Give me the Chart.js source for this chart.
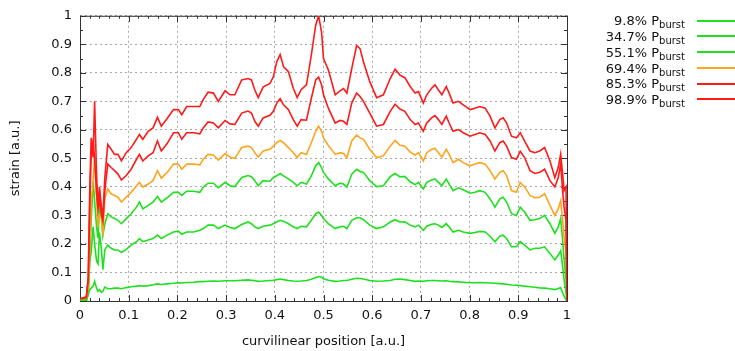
<!DOCTYPE html>
<html>
<head>
<meta charset="utf-8">
<script src="https://cdn.jsdelivr.net/npm/chart.js@4"></script>
<style>
  html, body { margin: 0; padding: 0; background: #fff; }
  #wrap { position: relative; width: 735px; height: 351px; }
  .key { position: absolute; right: 50px; height: 16px; line-height: 16px;
         font: 13px 'DejaVu Sans', sans-serif; color: #111; white-space: nowrap; }
  .key sub { font-size: 10px; vertical-align: -3px; line-height: 0; }
  .swatch { position: absolute; left: 697px; width: 38px; height: 2px; }
</style>
</head>
<body>
<div id="wrap"><canvas id="strainChart"></canvas></div>
<script>
// curvilinear position (shared by all curves)
const pos = [
  0, 0.013, 0.017, 0.02, 0.023, 0.027, 0.03, 0.034, 0.037, 0.04,
  0.044, 0.047, 0.051, 0.057, 0.064, 0.071, 0.078, 0.085, 0.095, 0.105,
  0.116, 0.122, 0.129, 0.14, 0.15, 0.159, 0.167, 0.179, 0.192, 0.202,
  0.209, 0.219, 0.233, 0.246, 0.253, 0.263, 0.274, 0.284, 0.298, 0.308,
  0.318, 0.332, 0.345, 0.352, 0.359, 0.366, 0.376, 0.39, 0.397, 0.404,
  0.411, 0.418, 0.428, 0.438, 0.446, 0.454, 0.465, 0.475, 0.484, 0.49,
  0.496, 0.5, 0.51, 0.524, 0.534, 0.541, 0.548, 0.558, 0.568, 0.575,
  0.582, 0.595, 0.609, 0.623, 0.637, 0.647, 0.657, 0.667, 0.678, 0.688,
  0.695, 0.705, 0.712, 0.722, 0.729, 0.736, 0.743, 0.752, 0.758, 0.766,
  0.777, 0.787, 0.801, 0.811, 0.821, 0.832, 0.842, 0.852, 0.862, 0.869,
  0.876, 0.886, 0.896, 0.904, 0.913, 0.924, 0.934, 0.944, 0.954, 0.965,
  0.975, 0.982, 0.987, 0.991, 0.994, 0.998, 1.0
];

// strain at 9.8% Pburst
const p098 = [
  0.0, 0.0, 0.023, 0.04, 0.045, 0.052, 0.069, 0.045, 0.034, 0.04,
  0.03, 0.034, 0.049, 0.043, 0.043, 0.045, 0.045, 0.043, 0.047, 0.05,
  0.052, 0.054, 0.052, 0.054, 0.057, 0.06, 0.058, 0.06, 0.062, 0.064,
  0.063, 0.065, 0.066, 0.068, 0.068, 0.069, 0.07, 0.069, 0.071, 0.071,
  0.071, 0.073, 0.074, 0.073, 0.071, 0.069, 0.07, 0.072, 0.073, 0.075,
  0.077, 0.075, 0.072, 0.07, 0.069, 0.07, 0.072, 0.076, 0.082, 0.086,
  0.083, 0.078, 0.073, 0.069, 0.07, 0.072, 0.072, 0.076, 0.08, 0.079,
  0.077, 0.072, 0.069, 0.07, 0.072, 0.076, 0.077, 0.075, 0.072, 0.069,
  0.07, 0.069, 0.071, 0.072, 0.072, 0.071, 0.07, 0.071, 0.069, 0.068,
  0.067, 0.066, 0.064, 0.064, 0.065, 0.064, 0.063, 0.062, 0.061, 0.06,
  0.059, 0.056, 0.055, 0.054, 0.052, 0.05, 0.048, 0.046, 0.045, 0.043,
  0.04, 0.044, 0.047, 0.028, 0.017, 0.005, 0.0
];

// strain at 34.7% Pburst
const p347 = [
  0.0, 0.0, 0.03, 0.14, 0.17, 0.26, 0.2, 0.14, 0.13, 0.24,
  0.18, 0.11, 0.18, 0.196, 0.185, 0.179, 0.179, 0.17, 0.181, 0.196,
  0.208, 0.219, 0.208, 0.214, 0.219, 0.231, 0.219, 0.231, 0.242, 0.245,
  0.234, 0.242, 0.242, 0.248, 0.254, 0.266, 0.266, 0.254, 0.266, 0.258,
  0.254, 0.268, 0.277, 0.271, 0.26, 0.254, 0.262, 0.266, 0.271, 0.277,
  0.283, 0.28, 0.271, 0.26, 0.254, 0.262, 0.26, 0.283, 0.306, 0.312,
  0.30, 0.289, 0.271, 0.254, 0.26, 0.262, 0.254, 0.283, 0.292, 0.292,
  0.285, 0.266, 0.254, 0.26, 0.277, 0.285, 0.277, 0.278, 0.266, 0.26,
  0.266, 0.248, 0.262, 0.269, 0.271, 0.266, 0.258, 0.271, 0.26, 0.242,
  0.248, 0.242, 0.237, 0.24, 0.244, 0.242, 0.227, 0.208, 0.227, 0.231,
  0.219, 0.19, 0.19, 0.208, 0.196, 0.179, 0.185, 0.185, 0.19, 0.167,
  0.144, 0.161, 0.176, 0.121, 0.075, 0.03, 0.0
];

// strain at 55.1% Pburst
const p551 = [
  0.005, 0.005, 0.03, 0.15, 0.28, 0.42, 0.35, 0.26, 0.22, 0.33,
  0.29, 0.23, 0.27, 0.306, 0.295, 0.289, 0.283, 0.271, 0.289, 0.306,
  0.329, 0.347, 0.323, 0.335, 0.347, 0.366, 0.347, 0.362, 0.381, 0.381,
  0.37, 0.385, 0.385, 0.381, 0.399, 0.413, 0.413, 0.397, 0.416, 0.404,
  0.401, 0.433, 0.44, 0.436, 0.422, 0.404, 0.422, 0.42, 0.433, 0.439,
  0.447, 0.439, 0.428, 0.416, 0.404, 0.416, 0.41, 0.439, 0.474, 0.485,
  0.468, 0.451, 0.428, 0.404, 0.413, 0.41, 0.399, 0.445, 0.462, 0.454,
  0.451, 0.422, 0.401, 0.404, 0.436, 0.447, 0.435, 0.437, 0.418, 0.408,
  0.416, 0.393, 0.416, 0.424, 0.428, 0.416, 0.404, 0.428, 0.41, 0.387,
  0.397, 0.39, 0.378, 0.381, 0.387, 0.381, 0.358, 0.329, 0.358, 0.364,
  0.347, 0.306, 0.30, 0.329, 0.312, 0.283, 0.285, 0.289, 0.30, 0.271,
  0.237, 0.26, 0.289, 0.214, 0.144, 0.075, 0.0
];

// strain at 69.4% Pburst
const p694 = [
  0.008, 0.01, 0.05, 0.17, 0.35, 0.42, 0.51, 0.36, 0.26, 0.30,
  0.31, 0.23, 0.36, 0.393, 0.376, 0.37, 0.364, 0.347, 0.364, 0.381,
  0.404, 0.416, 0.40, 0.41, 0.422, 0.457, 0.431, 0.451, 0.48, 0.48,
  0.462, 0.48, 0.48, 0.477, 0.497, 0.514, 0.512, 0.494, 0.517, 0.505,
  0.50, 0.538, 0.543, 0.538, 0.52, 0.505, 0.526, 0.532, 0.543, 0.555,
  0.563, 0.555, 0.538, 0.52, 0.503, 0.52, 0.514, 0.555, 0.595, 0.613,
  0.595, 0.572, 0.545, 0.514, 0.52, 0.517, 0.503, 0.561, 0.582, 0.572,
  0.567, 0.532, 0.503, 0.509, 0.543, 0.563, 0.546, 0.543, 0.522, 0.512,
  0.52, 0.491, 0.52, 0.532, 0.535, 0.52, 0.505, 0.532, 0.514, 0.485,
  0.497, 0.485, 0.474, 0.48, 0.485, 0.48, 0.457, 0.428, 0.451, 0.457,
  0.44, 0.387, 0.381, 0.416, 0.40, 0.37, 0.362, 0.364, 0.376, 0.335,
  0.30, 0.323, 0.352, 0.283, 0.225, 0.168, 0.0
];

// strain at 85.3% Pburst
const p853 = [
  0.008, 0.012, 0.08, 0.33, 0.52, 0.56, 0.50, 0.38, 0.32, 0.36,
  0.30, 0.28, 0.387, 0.48, 0.468, 0.457, 0.445, 0.424, 0.44, 0.462,
  0.497, 0.514, 0.491, 0.509, 0.52, 0.561, 0.526, 0.552, 0.59, 0.59,
  0.567, 0.59, 0.59, 0.586, 0.607, 0.628, 0.624, 0.607, 0.633, 0.621,
  0.619, 0.659, 0.666, 0.659, 0.63, 0.613, 0.642, 0.651, 0.665, 0.694,
  0.709, 0.688, 0.671, 0.636, 0.613, 0.636, 0.634, 0.711, 0.775, 0.785,
  0.758, 0.723, 0.676, 0.624, 0.633, 0.63, 0.619, 0.694, 0.729, 0.717,
  0.70, 0.659, 0.613, 0.619, 0.665, 0.69, 0.673, 0.665, 0.636, 0.619,
  0.624, 0.595, 0.624, 0.642, 0.65, 0.636, 0.619, 0.648, 0.624, 0.595,
  0.601, 0.59, 0.578, 0.584, 0.59, 0.584, 0.561, 0.526, 0.555, 0.561,
  0.543, 0.503, 0.497, 0.525, 0.503, 0.457, 0.447, 0.451, 0.462, 0.422,
  0.40, 0.433, 0.48, 0.387, 0.33, 0.283, 0.0
];

// strain at 98.9% Pburst
const p989 = [
  0.008, 0.015, 0.086, 0.387, 0.572, 0.503, 0.70, 0.445, 0.33, 0.40,
  0.33, 0.295, 0.433, 0.549, 0.532, 0.514, 0.514, 0.491, 0.52, 0.538,
  0.567, 0.584, 0.567, 0.595, 0.607, 0.644, 0.613, 0.64, 0.671, 0.671,
  0.653, 0.682, 0.682, 0.682, 0.706, 0.732, 0.729, 0.70, 0.737, 0.723,
  0.723, 0.775, 0.78, 0.775, 0.74, 0.713, 0.75, 0.763, 0.786, 0.839,
  0.864, 0.821, 0.804, 0.746, 0.713, 0.741, 0.758, 0.862, 0.967, 1.0,
  0.943, 0.85, 0.81, 0.723, 0.737, 0.745, 0.729, 0.815, 0.896, 0.885,
  0.839, 0.769, 0.713, 0.723, 0.78, 0.813, 0.792, 0.783, 0.752, 0.729,
  0.734, 0.694, 0.723, 0.746, 0.758, 0.74, 0.723, 0.752, 0.729, 0.694,
  0.70, 0.688, 0.671, 0.676, 0.682, 0.676, 0.648, 0.607, 0.636, 0.642,
  0.624, 0.578, 0.572, 0.59, 0.561, 0.526, 0.52, 0.526, 0.538, 0.491,
  0.433, 0.468, 0.515, 0.446, 0.387, 0.40, 0.0
];

const seriesLabels = ['9.8%', '34.7%', '55.1%', '69.4%', '85.3%', '98.9%'];
const seriesValues = [p098, p347, p551, p694, p853, p989];
const seriesColors = ['#1ee01e', '#1ee01e', '#1ee01e', '#ffa41c', '#ff1a1a', '#ff1a1a'];

const font = { family: "'DejaVu Sans', sans-serif", size: 13 };
const tickLabel = v => String(+Number(v).toFixed(1)); // 0, 0.1 ... 1 like gnuplot

// gnuplot style box with inward tics on all four sides
const frameAndTics = {
  id: 'frameAndTics',
  beforeDatasetsDraw(chart) {
    const { ctx, chartArea: a, scales: { x, y } } = chart;
    ctx.save();
    ctx.strokeStyle = '#333';
    ctx.lineWidth = 1;
    ctx.beginPath();
    for (let i = 0; i <= 50; i++) {
      const px = Math.round(x.getPixelForValue(i / 50)) + 0.5;
      const len = i % 5 === 0 ? 6 : 3;
      ctx.moveTo(px, a.bottom); ctx.lineTo(px, a.bottom - len);
      ctx.moveTo(px, a.top); ctx.lineTo(px, a.top + len);
    }
    for (let i = 0; i <= 20; i++) {
      const py = Math.round(y.getPixelForValue(i / 20)) + 0.5;
      const len = i % 2 === 0 ? 6 : 3;
      ctx.moveTo(a.left, py); ctx.lineTo(a.left + len, py);
      ctx.moveTo(a.right, py); ctx.lineTo(a.right - len, py);
    }
    ctx.stroke();
    ctx.strokeRect(a.left + 0.5, a.top + 0.5, a.right - a.left, a.bottom - a.top);
    ctx.restore();
  }
};

new Chart(document.getElementById('strainChart'), {
  type: 'line',
  data: {
    datasets: seriesValues.map((vals, i) => ({
      label: seriesLabels[i] + ' Pburst',
      data: vals.map((v, j) => ({ x: pos[j], y: v })),
      borderColor: seriesColors[i],
      borderWidth: 1.6,
      pointRadius: 0,
      tension: 0,
      fill: false,
      order: seriesValues.length - i
    }))
  },
  options: {
    responsive: true,
    maintainAspectRatio: false,
    animation: false,
    events: [],
    layout: { padding: { left: 0, right: 168, top: 13, bottom: 0 } },
    plugins: { legend: { display: false }, tooltip: { enabled: false } },
    scales: {
      x: {
        type: 'linear',
        min: 0,
        max: 1,
        afterFit: s => { s.height = 50; },
        ticks: { stepSize: 0.1, font, color: '#111', padding: 7, maxRotation: 0, autoSkip: false, callback: tickLabel },
        grid: { color: '#a8a8a8', drawTicks: false },
        border: { display: false, dash: [2, 3] },
        title: { display: true, text: 'curvilinear position [a.u.]', font, color: '#111', padding: { top: 0, bottom: 2 } }
      },
      y: {
        min: 0,
        max: 1,
        afterFit: s => { s.width = 80; },
        ticks: { stepSize: 0.1, font, color: '#111', padding: 8, callback: tickLabel },
        grid: { color: '#a8a8a8', drawTicks: false },
        border: { display: false, dash: [2, 3] },
        title: { display: true, text: 'strain [a.u.]', font, color: '#111', padding: { top: 8, bottom: 0 } }
      }
    }
  },
  plugins: [frameAndTics]
});

// legend with subscripts, built from the same label / colour arrays
const wrap = document.getElementById('wrap');
seriesLabels.forEach((lab, i) => {
  const cy = 20.5 + 15.75 * i;
  const key = document.createElement('div');
  key.className = 'key';
  key.style.top = (cy - 7.2) + 'px';
  key.innerHTML = lab + ' P<sub>burst</sub>';
  wrap.appendChild(key);
  const sw = document.createElement('div');
  sw.className = 'swatch';
  sw.style.top = (cy - 1) + 'px';
  sw.style.background = seriesColors[i];
  wrap.appendChild(sw);
});
</script>
</body>
</html>
